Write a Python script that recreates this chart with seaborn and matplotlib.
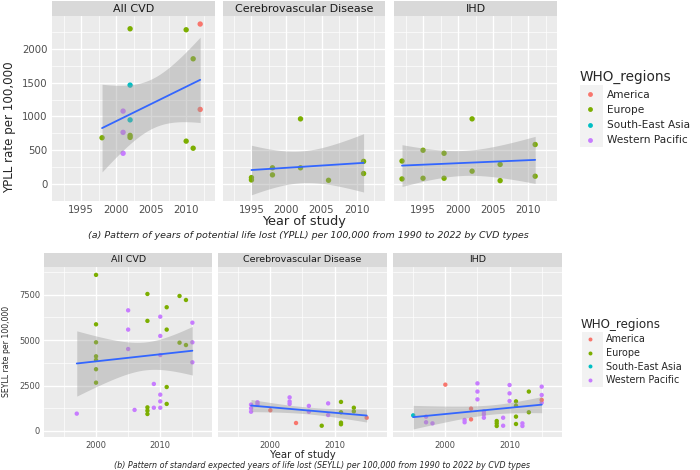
import numpy as np
import pandas as pd
import matplotlib
matplotlib.use('Agg')
import matplotlib.pyplot as plt
from matplotlib.patches import Rectangle
from matplotlib.ticker import MultipleLocator
import seaborn as sns

regions = ['America', 'Europe', 'South-East Asia', 'Western Pacific']
codes = {'A': 'America', 'E': 'Europe', 'S': 'South-East Asia', 'W': 'Western Pacific'}
palette = ['#F8766D', '#7CAE00', '#00BFC4', '#C77CFF']
panels = ['All CVD', 'Cerebrovascular Disease', 'IHD']

# (a) YPLL per 100,000
ypll_all_year = [2002, 2010, 2012, 2011, 2002, 2012, 2001, 2002, 2001, 2002, 2002, 1998, 2010, 2011, 2001]
ypll_all_value = [2300, 2285, 2370, 1855, 1465, 1105, 1080, 950, 765, 720, 690, 685, 635, 530, 455]
ypll_all_region = list('EEAESAWSWEEEEEW')

ypll_cer_year = [2002, 1995, 1995, 1998, 1998, 2002, 2006, 2011, 2011]
ypll_cer_value = [965, 95, 60, 240, 135, 240, 55, 335, 155]
ypll_cer_region = list('EEEEEEEEE')

ypll_ihd_year = [1992, 1992, 1995, 1995, 1998, 1998, 2002, 2002, 2006, 2006, 2011, 2011]
ypll_ihd_value = [340, 75, 500, 85, 455, 85, 965, 190, 290, 50, 585, 115]
ypll_ihd_region = list('EEEEEEEEEEEE')

# (b) SEYLL per 100,000
seyll_all_year = [2000, 2000, 2000, 2000, 2000, 2000, 2000, 2008, 2008, 2008, 2008, 2008,
                  2011, 2011, 2011, 2011, 2013, 2013, 2014, 2014,
                  1997, 2005, 2005, 2005, 2006, 2009, 2009, 2010, 2010, 2010, 2010, 2010, 2010,
                  2015, 2015, 2015]
seyll_all_value = [8590, 5870, 4880, 4110, 3910, 3400, 2660, 7540, 6060, 1300, 1120, 935,
                   6810, 5580, 2420, 1490, 7430, 4860, 7210, 4730,
                   955, 6640, 5580, 4510, 1160, 2590, 1280, 6290, 5230, 4180, 2000, 1630, 1280,
                   5960, 4880, 3780]
seyll_all_region = list('EEEEEEEEEEEEEEEEEEEE' 'WWWWWWWWWWWWWWWW')

seyll_cer_year = [1997, 1997, 1997, 1998, 1998, 2000, 2003, 2003, 2003, 2004, 2006, 2006,
                  2008, 2009, 2009, 2011, 2011, 2011, 2011, 2013, 2013, 2015]
seyll_cer_value = [1450, 1250, 1060, 1580, 1470, 1140, 1850, 1620, 1490, 440, 1380, 1060,
                   290, 1520, 880, 1600, 1030, 460, 370, 1280, 1080, 730]
seyll_cer_region = list('WWWWWAWWWAWWEWWEEEEEEA')

seyll_ihd_year = [1995, 1997, 1997, 1998, 2000, 2003, 2003, 2004, 2004, 2005, 2005, 2005,
                  2006, 2006, 2006, 2008, 2008, 2008, 2009, 2009, 2010, 2010, 2010,
                  2011, 2011, 2011, 2011, 2012, 2012, 2013, 2013, 2015, 2015, 2015, 2015]
seyll_ihd_value = [860, 790, 480, 420, 2550, 610, 480, 1230, 640, 2620, 2170, 1740,
                   1080, 920, 730, 550, 420, 275, 730, 290, 2530, 2070, 1650,
                   1630, 1390, 790, 385, 420, 275, 2170, 1030, 2440, 1980, 1560, 1710]
seyll_ihd_region = list('SWWWAWWAAWWWWWWEEEWWWWWEEEEWWEEWWWA')


def frame(years, values, regs):
    return pd.DataFrame({'year': years, 'value': values,
                         'WHO_regions': [codes[r] for r in regs]})


def t975(df):
    # Cornish-Fisher expansion of the 97.5% t quantile
    z = 1.959964
    return (z + (z**3 + z) / (4 * df) + (5 * z**5 + 16 * z**3 + 3 * z) / (96 * df**2)
            + (3 * z**7 + 19 * z**5 + 17 * z**3 - 15 * z) / (384 * df**3))


def lm_band(df):
    x = df['year'].to_numpy(float)
    y = df['value'].to_numpy(float)
    n = len(x)
    b1, b0 = np.polyfit(x, y, 1)
    resid = y - (b0 + b1 * x)
    s = np.sqrt((resid ** 2).sum() / (n - 2))
    grid = np.linspace(x.min(), x.max(), 100)
    se = s * np.sqrt(1 / n + (grid - x.mean()) ** 2 / ((x - x.mean()) ** 2).sum())
    fit = b0 + b1 * grid
    return grid, fit - t975(n - 2) * se, fit + t975(n - 2) * se


rows = [
    dict(frames=[frame(ypll_all_year, ypll_all_value, ypll_all_region),
                 frame(ypll_cer_year, ypll_cer_value, ypll_cer_region),
                 frame(ypll_ihd_year, ypll_ihd_value, ypll_ihd_region)],
         lefts=[52.3, 222.7, 394.3], width=162.6, top=16, bottom=201, strip=15,
         xlim=(1990.9, 2014.1), ylim=(-252, 2489), xmaj=5, ymaj=500,
         tick_fs=7.3, tick_pad=1.2, strip_fs=8, pt=15,
         ylabel='YPLL rate per 100,000', ylabel_fs=8.6, ylabel_pos=(10, 127),
         xlabel_fs=9.3, xlabel_pos=(304, 222),
         caption='(a) Pattern of years of potential life lost (YPLL) per 100,000 from 1990 to 2022 by CVD types',
         caption_fs=6.8, caption_pos=(308, 235.5),
         leg_title_fs=9.8, leg_fs=7.6, leg_space=0.5, leg_anchor=(575, 66), leg_box=(580, 85, 23, 62)),
    dict(frames=[frame(seyll_all_year, seyll_all_value, seyll_all_region),
                 frame(seyll_cer_year, seyll_cer_value, seyll_cer_region),
                 frame(seyll_ihd_year, seyll_ihd_value, seyll_ihd_region)],
         lefts=[44, 218.3, 393.3], width=168.3, top=266.7, bottom=436.7, strip=13.4,
         xlim=(1991.9, 2018.1), ylim=(-314, 9041), xmaj=10, ymaj=2500,
         tick_fs=6.0, tick_pad=0.8, strip_fs=6.8, pt=10,
         ylabel='SEYLL rate per 100,000', ylabel_fs=5.6, ylabel_pos=(7, 351),
         xlabel_fs=7.3, xlabel_pos=(303, 455),
         caption='(b) Pattern of standard expected years of life lost (SEYLL) per 100,000 from 1990 to 2022 by CVD types',
         caption_fs=5.8, caption_pos=(322, 465.5),
         leg_title_fs=8.6, leg_fs=6.9, leg_space=0.38, leg_anchor=(577, 314), leg_box=(581.7, 331.7, 21.6, 55)),
]

W, H = 700, 470
sns.set_style('white')
plt.rcParams['font.family'] = ['DejaVu Sans']
fig = plt.figure(figsize=(7, 4.7), dpi=100)

for row in rows:
    ph = row['bottom'] - row['top']
    handles, labels = None, None
    for i, (df, name) in enumerate(zip(row['frames'], panels)):
        ax = fig.add_axes([row['lefts'][i] / W, 1 - row['bottom'] / H, row['width'] / W, ph / H])
        ax.set_facecolor('#EBEBEB')
        sns.scatterplot(data=df, x='year', y='value', hue='WHO_regions', hue_order=regions,
                        palette=palette, s=row['pt'], linewidth=0, ax=ax, legend=(i == 0))
        if i == 0:
            handles, labels = ax.get_legend_handles_labels()
            ax.get_legend().remove()
        # 95% confidence ribbon of the linear fit (drawn over the points, as in ggplot)
        gx, lo, hi = lm_band(df)
        ax.fill_between(gx, lo, hi, color='#999999', alpha=0.4, lw=0)
        sns.regplot(data=df, x='year', y='value', scatter=False, ci=None, ax=ax,
                    color='#3366FF', line_kws={'lw': 1.3})
        ax.set_xlim(*row['xlim'])
        ax.set_ylim(*row['ylim'])
        ax.xaxis.set_major_locator(MultipleLocator(row['xmaj']))
        ax.xaxis.set_minor_locator(MultipleLocator(row['xmaj'] / 2))
        ax.yaxis.set_major_locator(MultipleLocator(row['ymaj']))
        ax.yaxis.set_minor_locator(MultipleLocator(row['ymaj'] / 2))
        ax.set_axisbelow(True)
        ax.grid(which='major', color='white', lw=1.0)
        ax.grid(which='minor', color='white', lw=0.5)
        for sp in ax.spines.values():
            sp.set_visible(False)
        ax.tick_params(which='major', length=2.0, width=0.6, color='#333333',
                       labelsize=row['tick_fs'], labelcolor='#4D4D4D', pad=row['tick_pad'])
        ax.tick_params(which='minor', length=0)
        if i > 0:
            ax.tick_params(left=False, labelleft=False)
        ax.set_xlabel('')
        ax.set_ylabel('')
        sh = row['strip'] / ph
        ax.add_patch(Rectangle((0, 1), 1, sh, transform=ax.transAxes, clip_on=False,
                               facecolor='#D9D9D9', edgecolor='none'))
        ax.text(0.5, 1 + sh / 2, name, transform=ax.transAxes, ha='center', va='center',
                fontsize=row['strip_fs'], color='#1A1A1A')

    fig.text(row['ylabel_pos'][0] / W, 1 - row['ylabel_pos'][1] / H, row['ylabel'],
             rotation=90, ha='center', va='center', fontsize=row['ylabel_fs'])
    fig.text(row['xlabel_pos'][0] / W, 1 - row['xlabel_pos'][1] / H, 'Year of study',
             ha='center', va='center', fontsize=row['xlabel_fs'])
    fig.text(row['caption_pos'][0] / W, 1 - row['caption_pos'][1] / H, row['caption'],
             ha='center', va='center', fontsize=row['caption_fs'], style='italic')

    bx, by, bw, bh = row['leg_box']
    fig.patches.append(Rectangle((bx / W, 1 - (by + bh) / H), bw / W, bh / H,
                                 transform=fig.transFigure, facecolor='#F2F2F2',
                                 edgecolor='none', zorder=0))
    leg = fig.legend(handles, labels, title='WHO_regions', loc='upper left',
                     bbox_to_anchor=(row['leg_anchor'][0] / W, 1 - row['leg_anchor'][1] / H),
                     frameon=False, fontsize=row['leg_fs'], title_fontsize=row['leg_title_fs'],
                     handletextpad=0.6, labelspacing=row['leg_space'], borderaxespad=0,
                     markerscale=0.9)
    leg._legend_box.align = 'left'

fig.savefig('out.png', dpi=100)
